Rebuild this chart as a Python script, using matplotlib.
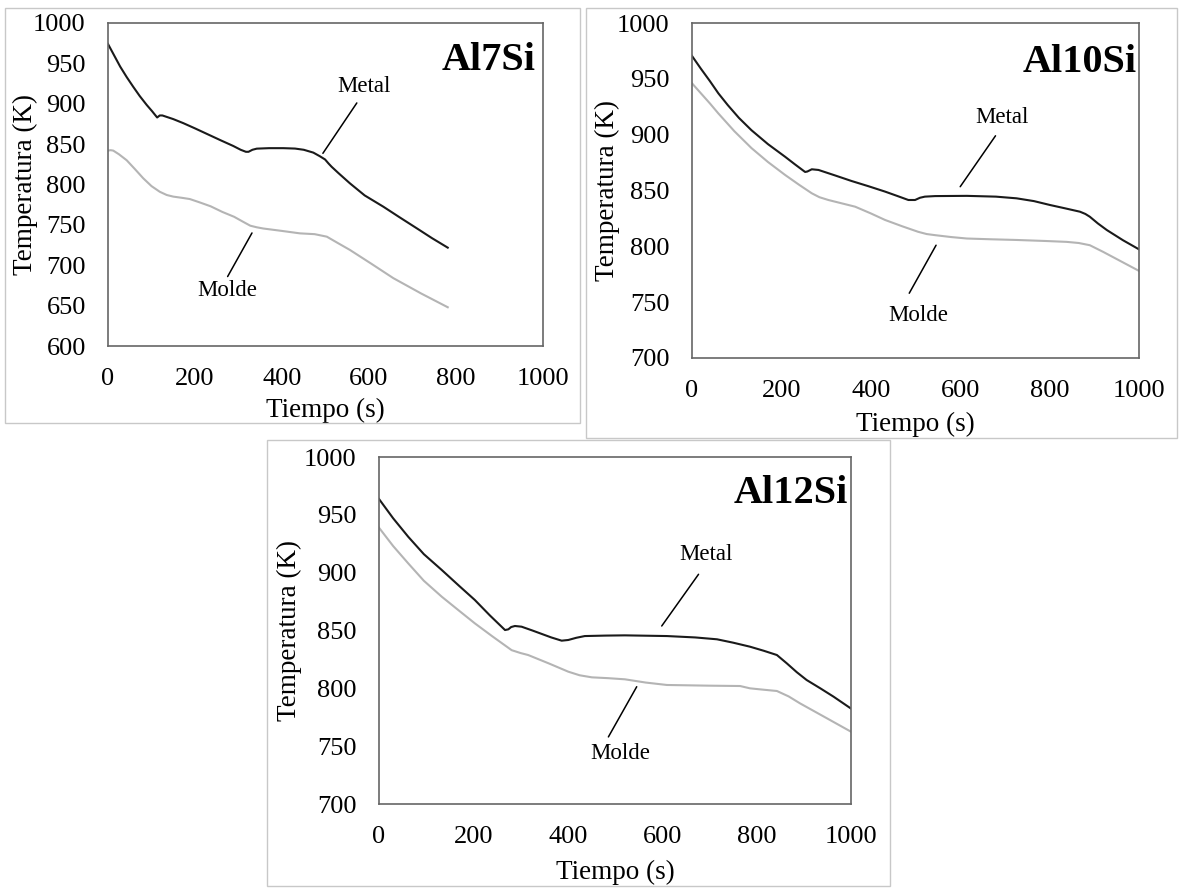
import matplotlib
matplotlib.use("Agg")
import matplotlib.pyplot as plt
from matplotlib.patches import Rectangle

plt.rcParams['font.family'] = ['Liberation Serif', 'DejaVu Serif']

# ---------------- data ----------------
# Al7Si
al7_metal_t = [0, 14, 28, 43, 58, 73, 89, 101, 113, 119, 125, 150, 173, 200, 234, 260, 288, 305, 317, 323, 332,
               342, 370, 403, 430, 450, 472, 487, 499, 507, 514, 530, 556, 590, 633, 670, 710, 745, 781]
al7_metal_T = [974, 960, 946, 933, 921, 909.5, 898.5, 891, 883, 885.5, 885.5, 881, 876, 869.5, 861, 854.5, 847.7,
               843, 840.5, 840.5, 843, 844.4, 845, 845, 844.5, 843, 839.5, 835, 831, 826, 822, 814, 801.5, 786.5,
               772.5, 759.5, 745.7, 733.5, 721.8]
al7_molde_t = [0, 6, 12, 25, 43, 62, 81, 100, 119, 135, 150, 170, 188, 210, 236, 263, 290, 310, 327, 342, 357,
               400, 441, 475, 503, 530, 556, 605, 656, 720, 781]
al7_molde_T = [842, 842.5, 842, 837.5, 830, 819, 807.7, 798, 791, 787, 785, 783.5, 782, 778, 773, 766, 760, 754,
               749, 747, 745.5, 742.5, 739.5, 738.5, 735.4, 727, 719, 702, 684, 665, 648]

# Al10Si
al10_metal_t = [0, 20, 40, 59, 80, 105, 133, 170, 208, 230, 253, 258, 268, 283, 320, 357, 395, 432, 460, 484, 499,
                510, 521, 544, 615, 680, 726, 765, 801, 835, 868, 880, 890, 908, 928, 964, 1000]
al10_metal_T = [970.5, 959, 948, 937, 926.5, 915, 904, 891.5, 880.3, 873.5, 866.6, 867, 869, 868.4, 863.5, 858.5,
                853.8, 849, 845, 841.5, 841.5, 843.5, 844.5, 845, 845.2, 844.5, 843, 840.5, 837, 834, 831, 829,
                826.5, 820.5, 814.6, 805.5, 797.3]
al10_molde_t = [0, 20, 40, 59, 95, 133, 170, 208, 240, 268, 285, 305, 335, 365, 400, 432, 470, 506, 525, 544, 580,
                615, 670, 726, 790, 838, 865, 890, 920, 960, 1000]
al10_molde_T = [946, 937, 928, 919, 903, 888, 875.5, 864, 855, 847.5, 844, 841.5, 838.5, 835.5, 829.5, 823.6, 818,
                813, 811, 810, 808.3, 807, 806.3, 805.7, 804.8, 804, 803, 801, 795, 786.5, 778]

# Al12Si
al12_metal_t = [0, 30, 62, 95, 133, 170, 203, 235, 267, 274, 280, 288, 302, 325, 345, 365, 387, 401, 418, 436, 480,
                521, 610, 670, 716, 750, 786, 815, 843, 864, 885, 906, 935, 963, 1000]
al12_metal_T = [963.7, 947, 931, 916, 902.3, 888.5, 876.4, 863, 850.4, 851, 853, 853.9, 853.3, 850, 847, 844, 841.2,
                841.8, 843.7, 845.2, 845.6, 845.8, 845.2, 844, 842.4, 839.5, 836, 832.5, 828.8, 821.6, 814, 807.2,
                800, 792.8, 782.5]
al12_molde_t = [0, 30, 62, 95, 133, 170, 203, 240, 281, 300, 316, 360, 401, 425, 451, 485, 521, 565, 610, 700, 765,
                786, 815, 843, 868, 892, 945, 1000]
al12_molde_T = [938.9, 923, 908, 893, 879.2, 867, 856.2, 845, 833, 830.5, 828.8, 821.5, 814.4, 811.3, 809.5, 808.8,
                807.8, 805, 802.9, 802.3, 802, 800, 798.8, 797.7, 793, 787, 775, 762.5]

titles = ['Al7Si', 'Al10Si', 'Al12Si']
x_ticks = [0, 200, 400, 600, 800, 1000]
y_ticks_7 = [600, 650, 700, 750, 800, 850, 900, 950, 1000]
y_ticks_10 = [700, 750, 800, 850, 900, 950, 1000]
y_ticks_12 = [700, 750, 800, 850, 900, 950, 1000]
x_label = 'Tiempo (s)'
y_label = 'Temperatura (K)'
metal_label = 'Metal'
molde_label = 'Molde'

# annotation anchors (data coords): label position, leader line start, leader line end
al7_metal_note = [(588, 921), (572, 901), (494, 838.6)]
al7_molde_note = [(274, 669), (331, 740), (275, 686)]
al10_metal_note = [(694, 915), (679, 899), (600, 853.4)]
al10_molde_note = [(506, 738), (546, 801), (486, 758)]
al12_metal_note = [(693, 916), (677, 898.6), (599, 853.9)]
al12_molde_note = [(511, 744), (546, 801.4), (486, 758)]
title_pos = [(984, 942), (996, 956), (994, 960.5)]

# ---------------- layout ----------------
W, H = 1182, 888
fig = plt.figure(figsize=(W / 100, H / 100), dpi=100)
fig.patch.set_facecolor('white')

def fr(x0, y0, x1, y1):
    return [x0 / W, 1 - y1 / H, (x1 - x0) / W, (y1 - y0) / H]

frames = [(5, 8, 580, 423), (586, 8, 1177, 438), (267, 440, 890, 886)]
axes_px = [(108, 23, 543, 346), (692, 23, 1139, 358), (379, 457, 851, 804)]

for (x0, y0, x1, y1) in frames:
    fig.add_artist(Rectangle((x0 / W, 1 - y1 / H), (x1 - x0) / W, (y1 - y0) / H,
                             transform=fig.transFigure, fill=False,
                             edgecolor='#c8c8c8', linewidth=1.0))

panels = [
    (al7_metal_t, al7_metal_T, al7_molde_t, al7_molde_T, y_ticks_7, al7_metal_note, al7_molde_note),
    (al10_metal_t, al10_metal_T, al10_molde_t, al10_molde_T, y_ticks_10, al10_metal_note, al10_molde_note),
    (al12_metal_t, al12_metal_T, al12_molde_t, al12_molde_T, y_ticks_12, al12_metal_note, al12_molde_note),
]

for i, (mt, mT, dt, dT, yt, mnote, dnote) in enumerate(panels):
    ax = fig.add_axes(fr(*axes_px[i]))
    ax.plot(dt, dT, color='#b4b4b4', lw=1.5, solid_joinstyle='round')
    ax.plot(mt, mT, color='#1a1a1a', lw=1.5, solid_joinstyle='round')
    ax.set_xlim(0, 1000)
    ax.set_ylim(yt[0], yt[-1])
    ax.set_xticks(x_ticks)
    ax.set_yticks(yt)
    ax.tick_params(length=0, labelsize=19, pad=16, colors='black')
    for s in ax.spines.values():
        s.set_color('#666666')
        s.set_linewidth(1.2)
    ax.set_xlabel(x_label, fontsize=19.5)
    ax.xaxis.label.set_va('center')
    ax.xaxis.set_label_coords(0.5, -0.198)
    ax.set_ylabel(y_label, fontsize=19.5)
    ax.yaxis.label.set_va('center')
    ax.yaxis.set_label_coords(-0.19, 0.5)
    tx, ty = title_pos[i]
    ax.text(tx, ty, titles[i], ha='right', va='baseline', fontsize=29, fontweight='bold')
    for note, lab in ((mnote, metal_label), (dnote, molde_label)):
        (lx, ly), (sx, sy), (ex, ey) = note
        ax.text(lx, ly, lab, ha='center', va='center', fontsize=16.5)
        ax.annotate('', xy=(ex, ey), xytext=(sx, sy),
                    arrowprops=dict(arrowstyle='-', color='black', lw=1.1,
                                    shrinkA=0, shrinkB=0))

fig.savefig('out.png', dpi=100, facecolor='white')
